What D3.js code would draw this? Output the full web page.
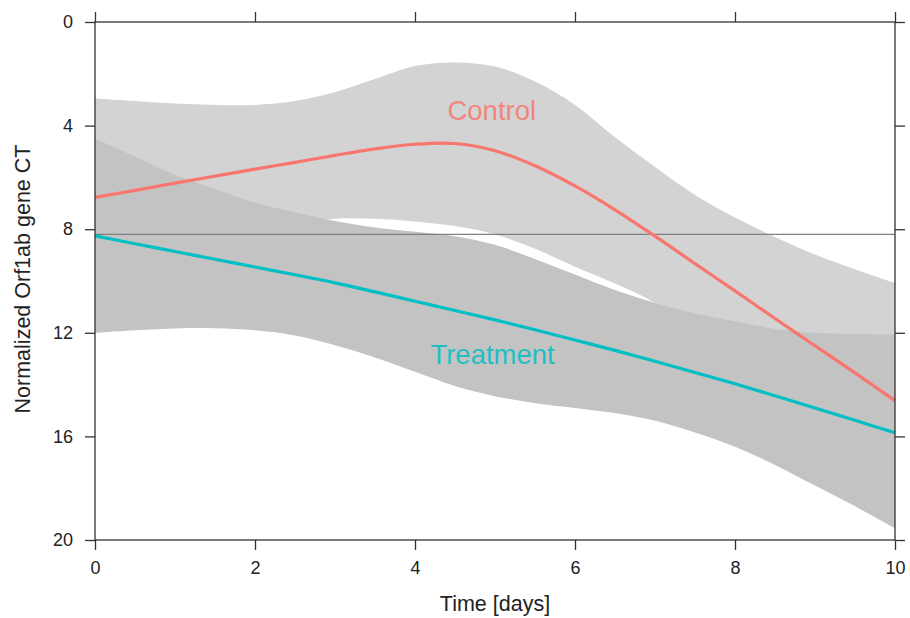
<!DOCTYPE html>
<html>
<head>
<meta charset="utf-8">
<script src="https://cdn.jsdelivr.net/npm/d3@7"></script>
<style>
  html, body { margin: 0; padding: 0; background: #fff; }
  svg { display: block; font-family: "Liberation Sans", Arial, Helvetica, sans-serif; }
</style>
</head>
<body>
<svg id="chart" width="910" height="618"></svg>
<script>
// ---- data ----
const days = [0,0.5,1,1.5,2,2.5,3,3.5,4,4.5,5,5.5,6,6.5,7,7.5,8,8.5,9,9.5,10];

const controlFit   = [6.77,6.5,6.22,5.95,5.68,5.42,5.15,4.9,4.72,4.69,4.97,5.55,6.33,7.25,8.27,9.33,10.38,11.45,12.5,13.55,14.62];
const controlUpper = [2.95,3.05,3.15,3.2,3.2,3.05,2.7,2.2,1.7,1.56,1.72,2.3,3.2,4.45,5.6,6.68,7.55,8.3,8.98,9.55,10.08];
const controlLower = [10.6,9.95,9.3,8.7,8.16,7.8,7.6,7.6,7.7,7.88,8.2,8.75,9.45,10.1,10.85,12.0,13.2,14.6,16.0,17.5,19.2];

const treatFit   = [8.26,8.56,8.86,9.16,9.46,9.76,10.07,10.42,10.78,11.14,11.5,11.88,12.28,12.68,13.1,13.53,13.97,14.43,14.9,15.38,15.86];
const treatUpper = [4.5,5.2,5.9,6.45,6.98,7.35,7.68,7.93,8.1,8.27,8.6,9.15,9.75,10.35,10.85,11.25,11.55,11.85,12.0,12.05,12.08];
const treatLower = [12.0,11.9,11.83,11.82,11.9,12.1,12.48,12.95,13.5,14.05,14.45,14.72,14.9,15.1,15.4,15.85,16.4,17.1,17.9,18.7,19.55];

const refLine = 8.2;
const xTicks = [0,2,4,6,8,10];
const yTicks = [0,4,8,12,16,20];
const seriesNames = ["Control","Treatment"];
const labelPos = [{x:4.96, y:3.8}, {x:4.97, y:13.2}];

// ---- layout ----
const svg = d3.select("#chart");
const mLeft = 95, mRight = 895, mTop = 22, mBottom = 540;
const x = d3.scaleLinear().domain([0,10]).range([mLeft,mRight]);
const y = d3.scaleLinear().domain([0,20]).range([mTop,mBottom]);

const colors = {Control:"#F8766D", Treatment:"#00BFC4"};
const bandColors = {Control:"#d3d3d3", Treatment:"#c3c3c3"};

const ctrl = days.map((d,i)=>({d, fit:controlFit[i], lo:controlUpper[i], hi:controlLower[i]}));
const trt  = days.map((d,i)=>({d, fit:treatFit[i], lo:treatUpper[i], hi:treatLower[i]}));

const curve = d3.curveCatmullRom.alpha(0.5);
const area = d3.area().x(p=>x(p.d)).y0(p=>y(p.lo)).y1(p=>y(p.hi)).curve(curve);
const line = d3.line().x(p=>x(p.d)).y(p=>y(p.fit)).curve(curve);

const g = svg.append("g");
g.append("path").datum(ctrl).attr("d", area).attr("fill", bandColors.Control);
g.append("path").datum(trt).attr("d", area).attr("fill", bandColors.Treatment);

g.append("line")
  .attr("x1", x(0)).attr("x2", x(10))
  .attr("y1", y(refLine)).attr("y2", y(refLine))
  .attr("stroke", "#7f7f7f").attr("stroke-width", 1.2);

g.append("path").datum(ctrl).attr("d", line)
  .attr("fill","none").attr("stroke", colors.Control).attr("stroke-width", 3.2);
g.append("path").datum(trt).attr("d", line)
  .attr("fill","none").attr("stroke", colors.Treatment).attr("stroke-width", 3.2);

seriesNames.forEach((n,i)=>{
  g.append("text")
    .attr("x", x(labelPos[i].x)).attr("y", y(labelPos[i].y))
    .attr("text-anchor","middle")
    .attr("font-size", 27.5)
    .attr("fill", colors[n])
    .attr("fill-opacity", 0.85)
    .text(n);
});

// ---- frame and axes ----
const axisColor = "#333";
svg.append("rect")
  .attr("x", mLeft).attr("y", mTop)
  .attr("width", mRight-mLeft).attr("height", mBottom-mTop)
  .attr("fill","none").attr("stroke", axisColor).attr("stroke-width", 1.3);

function styleAxis(sel, showText){
  sel.select(".domain").remove();
  sel.selectAll(".tick line").attr("stroke", axisColor).attr("stroke-width", 1.3);
  sel.selectAll(".tick text").attr("fill", "#222").attr("font-size", 18)
     .attr("font-family", '"Liberation Sans", Arial, sans-serif');
  if (!showText) sel.selectAll(".tick text").remove();
}

svg.append("g").attr("transform", `translate(0,${mBottom})`)
  .call(d3.axisBottom(x).tickValues(xTicks).tickFormat(d3.format("d")).tickSize(10).tickPadding(11))
  .call(s=>styleAxis(s,true));
svg.append("g").attr("transform", `translate(0,${mTop})`)
  .call(d3.axisTop(x).tickValues(xTicks).tickSize(10))
  .call(s=>styleAxis(s,false));
svg.append("g").attr("transform", `translate(${mLeft},0)`)
  .call(d3.axisLeft(y).tickValues(yTicks).tickFormat(d3.format("d")).tickSize(10).tickPadding(12))
  .call(s=>styleAxis(s,true));
svg.append("g").attr("transform", `translate(${mRight},0)`)
  .call(d3.axisRight(y).tickValues(yTicks).tickSize(10))
  .call(s=>styleAxis(s,false));

svg.append("text")
  .attr("x", (mLeft+mRight)/2).attr("y", 611)
  .attr("text-anchor","middle").attr("font-size", 21.5).attr("fill","#222")
  .text("Time [days]");
svg.append("text")
  .attr("transform", `translate(30,279) rotate(-90)`)
  .attr("text-anchor","middle").attr("font-size", 21.5).attr("fill","#222")
  .text("Normalized Orf1ab gene CT");
</script>
</body>
</html>
